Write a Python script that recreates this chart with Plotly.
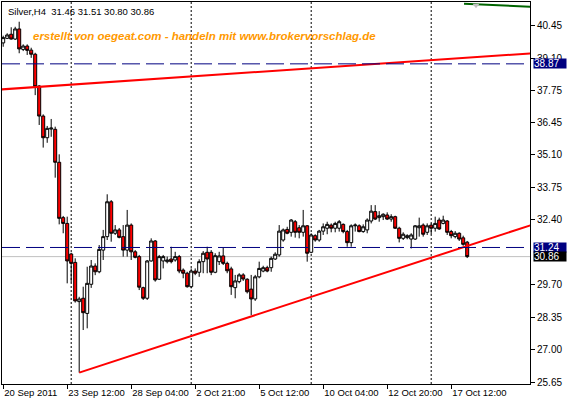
import plotly.graph_objects as go

# H4 candles, one entry per bar (bar index 0..116)
opens = [39.74, 39.93, 40.10, 39.90, 40.32, 39.47, 39.61, 39.44, 39.27, 37.95,
         36.70, 35.80, 36.16, 36.15, 34.78, 32.48, 32.24, 30.97, 30.62, 28.99,
         29.13, 28.50, 29.71, 30.47, 30.23, 31.13, 31.69, 33.14, 31.83, 31.97,
         31.69, 31.13, 32.17, 31.06, 30.86, 29.57, 29.13, 30.68, 31.51, 29.92,
         30.68, 30.65, 30.76, 30.72, 30.86, 30.30, 30.17, 29.61, 30.26, 30.21,
         30.65, 31.04, 31.04, 30.21, 30.65, 30.89, 30.58, 30.35, 29.57, 29.82,
         30.10, 29.92, 29.51, 29.10, 30.02, 30.26, 30.40, 30.40, 30.76, 30.93,
         31.55, 31.99, 31.87, 32.31, 32.06, 31.87, 32.14, 31.04, 31.73, 31.55,
         31.92, 32.04, 32.17, 32.04, 32.04, 32.20, 31.90, 31.44, 32.14, 32.14,
         31.90, 31.97, 32.34, 32.73, 32.48, 32.52, 32.59, 32.42, 32.52, 32.04,
         31.62, 31.65, 31.59, 31.59, 32.06, 32.17, 31.87, 32.17, 32.04, 32.38,
         32.24, 32.34, 31.90, 31.69, 31.83, 31.64, 31.46]
highs = [40.04, 40.14, 40.39, 40.41, 40.62, 39.68, 39.68, 39.54, 39.33, 37.99,
         36.77, 36.29, 36.58, 36.26, 35.11, 32.55, 32.52, 31.02, 30.79, 29.19,
         29.61, 30.44, 30.72, 30.58, 31.34, 31.97, 33.45, 33.21, 32.17, 32.05,
         32.17, 32.80, 32.24, 31.13, 30.93, 29.61, 30.72, 31.62, 31.55, 30.93,
         30.93, 30.86, 31.27, 31.06, 30.93, 30.37, 30.23, 30.37, 30.37, 30.75,
         31.09, 31.27, 31.13, 31.00, 31.06, 31.23, 30.65, 30.44, 30.10, 30.17,
         30.17, 29.96, 30.10, 30.10, 30.65, 30.48, 30.48, 30.86, 31.04, 32.17,
         32.03, 32.10, 32.42, 32.38, 32.17, 32.80, 32.17, 31.83, 31.79, 31.97,
         32.24, 32.31, 32.24, 32.31, 32.38, 32.24, 31.97, 32.20, 32.24, 32.20,
         32.20, 32.45, 33.00, 33.00, 32.75, 32.66, 32.70, 32.62, 32.56, 32.10,
         31.87, 31.79, 31.83, 32.17, 32.48, 32.24, 32.24, 32.24, 32.52, 32.48,
         32.56, 32.38, 31.97, 31.92, 31.87, 31.73, 31.51]
lows = [39.58, 39.90, 39.88, 39.86, 39.31, 39.40, 39.24, 39.12, 37.57, 36.33,
        35.39, 35.59, 35.84, 34.14, 32.20, 31.83, 29.75, 29.79, 28.95, 26.04,
        27.81, 27.88, 29.56, 30.09, 30.17, 30.72, 31.55, 31.48, 31.76, 31.62,
        30.86, 30.86, 30.72, 30.79, 29.47, 29.06, 29.06, 30.65, 29.82, 29.89,
        30.37, 30.58, 30.58, 30.65, 30.17, 29.96, 29.57, 29.54, 30.09, 30.02,
        30.17, 30.17, 30.09, 30.17, 30.51, 30.51, 30.17, 29.27, 29.13, 29.75,
        29.85, 29.33, 28.43, 29.02, 29.96, 30.21, 30.21, 30.23, 30.72, 30.86,
        31.48, 31.79, 31.69, 31.65, 31.62, 31.69, 30.65, 31.00, 31.48, 31.48,
        31.76, 31.79, 31.87, 31.87, 31.90, 31.83, 31.27, 31.27, 31.90, 31.87,
        31.85, 31.83, 32.24, 32.38, 32.31, 32.38, 32.38, 32.31, 32.01, 31.45,
        31.55, 31.58, 31.20, 31.55, 31.69, 31.69, 31.76, 31.79, 31.90, 31.97,
        32.20, 31.76, 31.62, 31.62, 31.51, 31.31, 30.80]
closes = [39.96, 40.07, 39.90, 40.32, 39.49, 39.61, 39.43, 39.27, 37.92, 36.70,
          35.80, 36.19, 36.20, 34.78, 32.45, 32.24, 30.68, 30.58, 29.02, 29.10,
          28.53, 29.75, 30.47, 30.23, 31.16, 31.69, 33.14, 31.83, 31.97, 31.66,
          31.13, 32.17, 31.06, 30.83, 29.59, 29.13, 30.68, 31.51, 29.89, 30.86,
          30.86, 30.72, 30.65, 30.86, 30.26, 30.17, 29.61, 30.26, 30.17, 30.65,
          31.00, 30.76, 30.21, 30.90, 30.89, 30.58, 30.27, 29.61, 29.85, 30.10,
          29.93, 29.40, 29.10, 30.02, 30.37, 30.40, 30.26, 30.79, 30.96, 31.92,
          31.97, 31.83, 32.38, 31.87, 31.87, 32.14, 31.00, 31.76, 31.55, 31.92,
          32.10, 32.20, 32.04, 32.24, 32.31, 31.90, 31.44, 32.14, 32.17, 31.90,
          32.10, 32.38, 32.75, 32.42, 32.56, 32.62, 32.42, 32.52, 32.04, 31.62,
          31.79, 31.73, 31.76, 32.14, 32.14, 31.79, 32.14, 32.04, 32.24, 32.01,
          32.38, 31.87, 31.73, 31.83, 31.59, 31.37, 30.86]
bars = list(range(len(closes)))

x_tick_bars = [0, 16, 32, 48, 64, 80, 96, 112]
x_tick_labels = ["20 Sep 2011", "23 Sep 12:00", "28 Sep 04:00", "2 Oct 21:00",
                 "5 Oct 12:00", "10 Oct 04:00", "12 Oct 20:00", "17 Oct 12:00"]
# 31.05 sits under the price boxes in the original, so it is left out
y_tick_vals = [25.65, 27.00, 28.35, 29.70, 32.40, 33.75, 35.10, 36.45, 37.75, 39.10, 40.45]

week_separators = [17, 47, 77, 107]
levels = [38.87, 31.24]
bid = 30.86

# trend lines (bar, price)
upper_trend_bars = [-2, 134]
upper_trend_prices = [37.79, 39.33]
lower_trend_bars = [19, 134]
lower_trend_prices = [26.04, 32.28]
green_trend_bars = [115.2, 134]
green_trend_prices = [41.37, 41.23]
arrow_bar, arrow_price = 118.2, 41.31

FONT = "Liberation Sans"

fig = go.Figure()

fig.add_hline(y=bid, line_color="#C0C0C0", line_width=1, layer="below")
for b in week_separators:
    fig.add_vline(x=b, line_color="black", line_width=1, line_dash="2px,2px", layer="below")

fig.add_trace(go.Candlestick(
    x=bars, open=opens, high=highs, low=lows, close=closes,
    increasing=dict(line=dict(color="black", width=1), fillcolor="white"),
    decreasing=dict(line=dict(color="black", width=1), fillcolor="#FF0000"),
    hoverinfo="skip", showlegend=False,
))

for lvl in levels:
    fig.add_hline(y=lvl, line_color="#000080", line_width=1, line_dash="18px,6px")

fig.add_trace(go.Scatter(x=upper_trend_bars, y=upper_trend_prices, mode="lines",
                         line=dict(color="#FF0000", width=2), showlegend=False, hoverinfo="skip"))
fig.add_trace(go.Scatter(x=lower_trend_bars, y=lower_trend_prices, mode="lines",
                         line=dict(color="#FF0000", width=2), showlegend=False, hoverinfo="skip"))
fig.add_trace(go.Scatter(x=green_trend_bars, y=green_trend_prices, mode="lines",
                         line=dict(color="#006400", width=2), showlegend=False, hoverinfo="skip"))
fig.add_trace(go.Scatter(x=[arrow_bar], y=[arrow_price], mode="markers",
                         marker=dict(symbol="triangle-down", size=6, color="#C0C0C0"),
                         showlegend=False, hoverinfo="skip"))

# right-hand price boxes
for val, bg in [(levels[0], "#000080"), (levels[1], "#000080"), (bid, "black")]:
    fig.add_annotation(x=1.0057, xref="paper", y=val, yref="y", xanchor="left", yanchor="middle",
                       text=f"{val:.2f}", showarrow=False, bgcolor=bg, width=32, height=9,
                       align="left", borderpad=0, font=dict(family=FONT, size=10, color="white"))

fig.add_annotation(x=0.0076, xref="paper", y=0.976, yref="paper", xanchor="left", yanchor="middle",
                   text="Silver,H4  31.46 31.51 30.80 30.86", showarrow=False,
                   font=dict(family=FONT, size=9.5, color="black"))
fig.add_annotation(x=0.054, xref="paper", y=0.912, yref="paper", xanchor="left", yanchor="middle",
                   text="erstellt von oegeat.com - handeln mit www.brokervorschlag.de", showarrow=False,
                   font=dict(family=FONT, size=11.5, color="#FF9900", weight="bold", style="italic"))

fig.update_layout(
    width=567, height=402,
    margin=dict(l=2, r=37, t=2, b=18, autoexpand=False),
    plot_bgcolor="white", paper_bgcolor="white",
    font=dict(family=FONT, size=10, color="black"),
    showlegend=False,
    boxgap=0.25, boxgroupgap=0,
    xaxis=dict(range=[-0.3, 131.7], rangeslider=dict(visible=False), showgrid=False, zeroline=False,
               automargin=False, showline=True, linecolor="black", linewidth=1, mirror=True,
               tickmode="array", tickvals=x_tick_bars, ticktext=x_tick_labels, tickangle=0,
               tickfont=dict(size=9.5), ticks="outside", ticklen=4, tickcolor="black",
               ticklabelposition="outside right"),
    yaxis=dict(range=[25.567, 41.44], side="right", showgrid=False, zeroline=False,
               automargin=False, showline=True, linecolor="black", linewidth=1, mirror=True,
               tickmode="array", tickvals=y_tick_vals, tickformat=".2f",
               ticks="outside", ticklen=4, tickcolor="black"),
)

fig.write_html("out.html", config={"displayModeBar": False},
               post_script="document.body.style.margin='0';document.body.style.overflow='hidden';")
